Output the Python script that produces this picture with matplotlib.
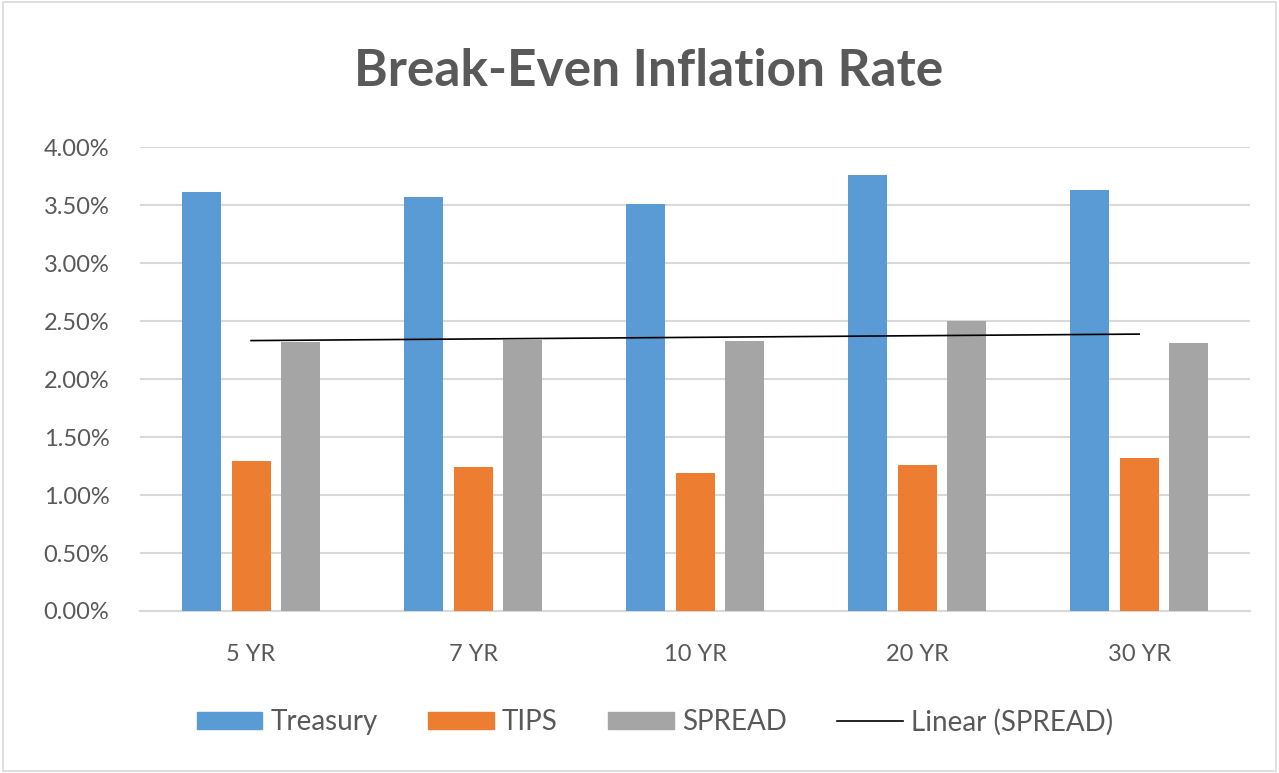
import numpy as np
import matplotlib
matplotlib.use('Agg')
from matplotlib import pyplot as plt
from matplotlib.ticker import FuncFormatter
from matplotlib.lines import Line2D
from matplotlib.patches import Patch

# Дані
categories = ['5 YR', '7 YR', '10 YR', '20 YR', '30 YR']
treasury = [3.61, 3.57, 3.51, 3.76, 3.63]
tips = [1.29, 1.24, 1.19, 1.26, 1.32]
spread = [2.32, 2.34, 2.33, 2.50, 2.31]

# Кольори
c_blue = '#5B9BD5'
c_orange = '#ED7D31'
c_grey = '#A5A5A5'
c_text = '#595959'
c_grid = '#D9D9D9'

plt.rcParams['font.family'] = ['Lato', 'DejaVu Sans']

fig = plt.figure(figsize=(12.79, 7.73), dpi=100)
fig.patch.set_facecolor('white')
ax = fig.add_axes([0.1095, 0.2096, 0.868, 0.600])

x = np.arange(1, len(categories) + 1)
w = 0.176
off = 0.223
ax.bar(x - off, treasury, w, color=c_blue, zorder=3)
ax.bar(x, tips, w, color=c_orange, zorder=3)
ax.bar(x + off, spread, w, color=c_grey, zorder=3)

# Лінійний тренд для SPREAD
k, b = np.polyfit(x, spread, 1)
ax.plot(x, k * x + b, color='black', lw=1.2, zorder=4)

ax.set_xlim(0.5, 5.5)
ax.set_ylim(0, 4.0)
ax.set_yticks(np.arange(0, 4.01, 0.5))
ax.yaxis.set_major_formatter(FuncFormatter(lambda v, p: f'{v:.2f}%'))
ax.set_xticks(x)
ax.set_xticklabels(categories)
ax.grid(axis='y', color=c_grid, lw=1.5, zorder=0)
for s in ['top', 'right', 'left']:
	ax.spines[s].set_visible(False)
ax.spines['bottom'].set_color(c_grid)
ax.spines['bottom'].set_linewidth(1.5)
ax.tick_params(axis='both', length=0, labelsize=17, colors=c_text)
ax.tick_params(axis='y', pad=22)
ax.tick_params(axis='x', pad=24)

fig.text(0.507, 0.907, 'Break-Even Inflation Rate', ha='center', va='center',
	fontsize=37, fontweight='bold', color=c_text)

handles = [Patch(color=c_blue), Patch(color=c_orange), Patch(color=c_grey),
	Line2D([0], [0], color='black', lw=1.2)]
labels = ['Treasury', 'TIPS', 'SPREAD', 'Linear (SPREAD)']
leg = fig.legend(handles, labels, loc='center', bbox_to_anchor=(0.512, 0.066), ncol=4,
	frameon=False, fontsize=20, handlelength=2.37, handleheight=0.52,
	columnspacing=1.8, handletextpad=0.3)
for t in leg.get_texts():
	t.set_color(c_text)

# Рамка навколо діаграми
fig.patches.append(plt.Rectangle((0.002, 0.002), 0.996, 0.996, transform=fig.transFigure,
	fill=False, edgecolor=c_grid, lw=1.2))

fig.savefig('out.png', dpi=100)
